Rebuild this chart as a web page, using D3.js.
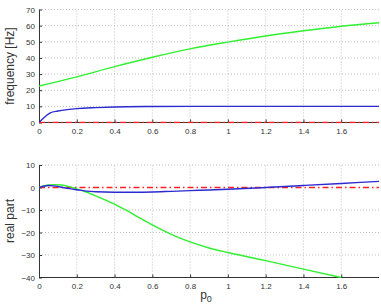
<!DOCTYPE html>
<html><head><meta charset="utf-8">
<script src="https://cdn.jsdelivr.net/npm/d3@7"></script>
<style>
body{margin:0;background:#fff;}
svg{display:block;font-family:"Liberation Sans",Arial,sans-serif;}
.grid line{stroke:#b0b0b0;stroke-dasharray:1,2;stroke-width:0.8;}
.ax text{font-size:8px;fill:#333;}
.ax path,.ax line{stroke:#333;}
</style>
</head><body>
<svg id="c" width="381" height="305"></svg>
<script>
// x ticks
const xTicks = [0,0.2,0.4,0.6,0.8,1,1.2,1.4,1.6];
const topYTicks = [0,10,20,30,40,50,60,70];
const botYTicks = [-40,-30,-20,-10,0,10];

// top panel: frequency [Hz]
const freqGreenX = [0,0.2,0.4,0.6,0.8,1.0,1.2,1.4,1.6,1.8];
const freqGreen = [22.6,28.3,34.6,40.4,45.6,49.8,53.6,56.8,59.6,61.8];
const freqBlueX = [0,0.06,0.1,0.15,0.2,0.3,0.4,0.6,0.8,1.0,1.2,1.4,1.6,1.8];
const freqBlue = [0,6.0,7.1,8.0,8.6,9.2,9.6,9.9,10,10,10,10,10,10];
const freqRedX = [0,1.8];
const freqRed = [0,0];

// bottom panel: real part
const realX = [0,0.05,0.08,0.12,0.16,0.2,0.25,0.3,0.4,0.5,0.6,0.7,0.8,0.9,1.0,1.2,1.4,1.6,1.8];
const realGreen = [0,1.1,1.3,1.1,0.4,-0.6,-2.0,-3.7,-7.4,-11.9,-16.6,-20.8,-24.2,-26.9,-28.9,-32.5,-36.3,-40.0,null];
const realBlue = [0,0.9,0.7,0.1,-0.5,-1.0,-1.6,-1.9,-2.1,-2.1,-2.0,-1.7,-1.4,-1.1,-0.8,0,0.9,1.8,2.7];
const realRedX = [0,1.8];
const realRed = [0,0];

const svg = d3.select("#c");
const x = d3.scaleLinear().domain([0,1.8]).range([39,379]);
const yTop = d3.scaleLinear().domain([0,70]).range([122.5,9.5]);
const yBot = d3.scaleLinear().domain([-40,10]).range([277.5,165]);

function panel(y, yTicks, series, clipId){
  const [y0,y1] = y.range();
  svg.append("defs").append("clipPath").attr("id",clipId)
    .append("rect").attr("x",39).attr("y",y1-2).attr("width",341).attr("height",y0-y1+3);
  const g = svg.append("g").attr("class","grid");
  g.selectAll("line.v").data(xTicks.slice(1)).enter().append("line")
    .attr("x1",d=>x(d)).attr("x2",d=>x(d)).attr("y1",y0).attr("y2",y1);
  g.selectAll("line.h").data(yTicks.filter(d=>d!==0)).enter().append("line")
    .attr("x1",39).attr("x2",379).attr("y1",d=>y(d)).attr("y2",d=>y(d));
  svg.append("g").attr("class","ax").attr("transform",`translate(0,${y0})`)
    .call(d3.axisBottom(x).tickValues(xTicks).tickSizeInner(-3).tickSizeOuter(0).tickPadding(6).tickFormat(d3.format("~g")))
    .call(a=>a.select(".domain").attr("d",`M39,0H379`));
  svg.append("g").attr("class","ax").attr("transform",`translate(39,0)`)
    .call(d3.axisLeft(y).tickValues(yTicks).tickSizeInner(-3).tickSizeOuter(0).tickPadding(4).tickFormat(d3.format("d")));
  const pg = svg.append("g").attr("clip-path",`url(#${clipId})`);
  series.forEach(s=>{
    const line = d3.line().defined(d=>d[1]!==null).curve(s.lin?d3.curveLinear:d3.curveMonotoneX).x(d=>x(d[0])).y(d=>y(d[1]));
    pg.append("path").datum(s.x.map((v,i)=>[v,s.v[i]]))
      .attr("d",line).attr("fill","none").attr("stroke",s.c)
      .attr("stroke-width",s.w||1.4).attr("stroke-dasharray",s.dash||null);
  });
}

panel(yTop, topYTicks, [
  {x:freqRedX,v:freqRed,c:"#ff2020",dash:"6,3,1.5,3",w:1.4,lin:true},
  {x:freqGreenX,v:freqGreen,c:"#30f030"},
  {x:freqBlueX,v:freqBlue,c:"#2a2ad0"}
], "clipTop");
panel(yBot, botYTicks, [
  {x:realRedX,v:realRed,c:"#ff2020",dash:"6,3,1.5,3",w:1.4,lin:true},
  {x:realX,v:realGreen,c:"#30f030"},
  {x:realX,v:realBlue,c:"#2a2ad0"}
], "clipBot");

svg.append("text").attr("transform","translate(14,66) rotate(-90)")
  .attr("text-anchor","middle").attr("font-size","12px").attr("fill","#333").text("frequency [Hz]");
svg.append("text").attr("transform","translate(14,221) rotate(-90)")
  .attr("text-anchor","middle").attr("font-size","12px").attr("fill","#333").text("real part");
const pl = svg.append("text").attr("x",206).attr("y",299).attr("text-anchor","middle")
  .attr("font-size","12px").attr("fill","#333");
pl.append("tspan").text("p");
pl.append("tspan").attr("font-size","9px").attr("dy","3").text("0");
</script>
</body></html>
